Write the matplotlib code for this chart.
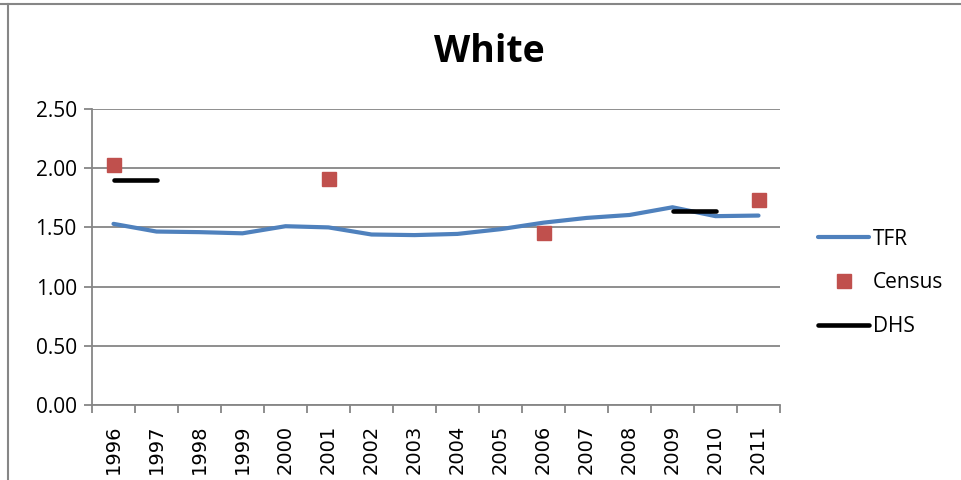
import matplotlib
matplotlib.use("Agg")
import matplotlib.pyplot as plt
import numpy as np
from matplotlib.lines import Line2D

years = ["1996", "1997", "1998", "1999", "2000", "2001", "2002", "2003",
         "2004", "2005", "2006", "2007", "2008", "2009", "2010", "2011"]
tfr = [1.53, 1.465, 1.46, 1.45, 1.51, 1.50, 1.44, 1.435,
       1.445, 1.485, 1.54, 1.58, 1.605, 1.67, 1.595, 1.60]
census = [2.03, None, None, None, None, 1.91, None, None,
          None, None, 1.45, None, None, None, None, 1.73]
dhs = [1.90, 1.90, None, None, None, None, None, None,
       None, None, None, None, None, 1.64, 1.64, None]
yticks = [0.0, 0.5, 1.0, 1.5, 2.0, 2.5]

plt.rcParams['font.family'] = ['Open Sans', 'DejaVu Sans']

fig = plt.figure(figsize=(9.61, 4.80), dpi=100)
ax = fig.add_axes([92/961, 75/480, (780-92)/961, (405-109)/480])

x = np.arange(len(years))
tfr_c = "#4F81BD"
cen_c = "#C0504D"
grid_c = "#868686"

def to_arr(v):
    return np.array([np.nan if a is None else a for a in v], dtype=float)

ax.plot(x, tfr, color=tfr_c, lw=3, solid_capstyle='round', label="TFR", zorder=3)
ax.plot(x, to_arr(census), ls='none', marker='s', ms=10, color=cen_c,
        mec=cen_c, label="Census", zorder=4)
ax.plot(x, to_arr(dhs), color="black", lw=3.3, solid_capstyle='round', label="DHS", zorder=4)

ax.set_xlim(-0.5, len(years) - 0.5)
ax.set_ylim(0, 2.5)
ax.set_yticks(yticks)
ax.set_yticklabels([f"{v:.2f}" for v in yticks], fontsize=15)
ax.yaxis.grid(True, color=grid_c, lw=1.3)
ax.set_axisbelow(True)

ax.set_xticks(x)
ax.set_xticklabels(years, rotation=90, fontsize=14, family='DejaVu Sans')
ax.tick_params(axis='x', which='major', length=0, pad=14)
ax.set_xticks(np.arange(-0.5, len(years)), minor=True)
ax.tick_params(axis='x', which='minor', length=6, width=1.3, color=grid_c, direction='out')
ax.tick_params(axis='y', length=6, width=1.3, color=grid_c, direction='out', pad=5)

for s in ['top', 'right']:
    ax.spines[s].set_visible(False)
for s in ['left', 'bottom']:
    ax.spines[s].set_color(grid_c)
    ax.spines[s].set_linewidth(1.3)

fig.text(489/961, 1 - 52/480, "White", ha='center', va='center',
         fontsize=27, fontweight='bold')

handles = [Line2D([], [], color=tfr_c, lw=3, solid_capstyle='round'),
           Line2D([], [], ls='none', marker='s', ms=10, color=cen_c),
           Line2D([], [], color='black', lw=3.3, solid_capstyle='round')]
leg = fig.legend(handles, ["TFR", "Census", "DHS"], loc='center left',
                 bbox_to_anchor=(818/961, 1 - 283/480), frameon=False,
                 fontsize=15, handlelength=2.45, handletextpad=0.2,
                 labelspacing=1.1, borderaxespad=0, borderpad=0)

fig.add_artist(Line2D([0, 1], [1 - 3.5/480, 1 - 3.5/480], color=grid_c, lw=1.5,
                      transform=fig.transFigure))
fig.add_artist(Line2D([8/961, 8/961], [0, 1 - 3.5/480], color=grid_c, lw=1.5,
                      transform=fig.transFigure))

fig.savefig("out.png", dpi=100)
